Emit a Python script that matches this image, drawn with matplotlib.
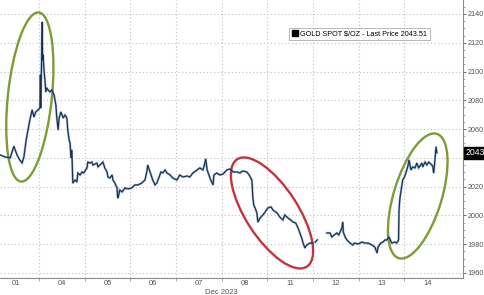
import numpy as np
import matplotlib
matplotlib.use("Agg")
import matplotlib.pyplot as plt
from matplotlib.patches import Ellipse
from matplotlib.transforms import ScaledTranslation
from matplotlib.lines import Line2D

# --- data: time in trading-day slots (0 = Dec 01, 1 = Dec 04, ...), gold spot price ---
t = [0.15, 0.26, 0.37, 0.45, 0.52, 0.58, 0.63, 0.67, 0.72, 0.76, 0.80, 0.85, 0.89, 0.93, 0.98,
     1.02, 1.03, 1.04, 1.07, 1.08, 1.09, 1.11, 1.13, 1.15, 1.17, 1.20, 1.24, 1.28, 1.33, 1.37,
     1.39, 1.42, 1.44, 1.48, 1.53, 1.57, 1.61, 1.63, 1.66, 1.68, 1.70, 1.72, 1.74, 1.79, 1.83,
     1.85, 1.90, 1.94, 1.98, 2.05, 2.07, 2.12, 2.16, 2.18, 2.27, 2.29, 2.33, 2.38, 2.40, 2.44,
     2.49, 2.51, 2.55, 2.60, 2.62, 2.66, 2.71, 2.72, 2.73, 2.77, 2.82, 2.88, 2.95, 3.03, 3.10,
     3.17, 3.25, 3.32, 3.36, 3.38, 3.43, 3.49, 3.54, 3.58, 3.63, 3.67, 3.71, 3.76, 3.80, 3.87,
     3.93, 4.02, 4.08, 4.15, 4.24, 4.30, 4.37, 4.46, 4.52, 4.59, 4.63, 4.65, 4.68, 4.72, 4.76,
     4.81, 4.83, 4.89, 4.96, 5.03, 5.11, 5.18, 5.25, 5.33, 5.40, 5.46, 5.55, 5.60, 5.66, 5.68,
     5.70, 5.73, 5.77, 5.79, 5.84, 5.90, 5.95, 6.01, 6.08, 6.12, 6.21, 6.27, 6.34, 6.38, 6.45,
     6.51, 6.56, 6.62, 6.67, 6.71, 6.75, 6.78, 6.82, 6.86, 6.93, 7.00, 7.02,
     7.05, 7.09, 7.11,
     7.30, 7.37, 7.41, 7.46, 7.52, 7.56, 7.63, 7.65, 7.66, 7.70, 7.74, 7.81, 7.87, 7.91, 7.98,
     8.07, 8.13, 8.20, 8.29, 8.35, 8.40, 8.42, 8.48, 8.53, 8.57, 8.61, 8.66, 8.72, 8.79, 8.83,
     8.87, 8.88, 8.90, 8.92, 8.96, 8.99, 9.03, 9.07, 9.10, 9.14, 9.18, 9.23, 9.27, 9.31, 9.38,
     9.40, 9.45, 9.49, 9.53, 9.60, 9.62, 9.64, 9.66, 9.69, 9.71]
price = [2042, 2040.6, 2040, 2048, 2042, 2038.5, 2036.4, 2040.6, 2052.4, 2059.4, 2066.3, 2073.3,
         2068.4, 2071.9, 2073.3, 2074.7, 2097.6, 2074.7, 2134.4, 2108, 2111.5, 2101, 2094, 2085.8,
         2088.6, 2087.2, 2085.8, 2087.2, 2083.7, 2076.8, 2067.7, 2059.4, 2067.7, 2071.9, 2067.7,
         2069.8, 2067.7, 2059.4, 2052.4, 2050.3, 2040, 2045.5, 2022.5, 2024.6, 2023.2, 2029.5,
         2028.1, 2030.2, 2029.5, 2033, 2037.1, 2036.4, 2037.1, 2035, 2036.4, 2033.7, 2035, 2036.4,
         2037.1, 2033, 2030.2, 2026.7, 2026, 2028.1, 2024.6, 2022.5, 2019.1, 2012.8, 2012.1,
         2017.7, 2016.3, 2019.1, 2018.4, 2019.1, 2021.2, 2021.2, 2022.5, 2024.6, 2030.2, 2035,
         2030.2, 2024.6, 2021.2, 2022.5, 2026.7, 2030.2, 2029.5, 2031.6, 2029.5, 2028.1, 2026,
         2024.6, 2028.1, 2026.7, 2027.4, 2026.7, 2029.5, 2031.6, 2033, 2031.6, 2036.4, 2039.2,
         2031.6, 2028.1, 2024.6, 2021.2, 2028.1, 2029.5, 2028.1, 2028.8, 2031.6, 2032.3, 2030.2,
         2030.2, 2029.5, 2030.9, 2030.2, 2028.1, 2024.6, 2012.8, 2007.3, 2005.2, 2001.7, 1995.4,
         1998.2, 2000.3, 2002.4, 2005.2, 2005.9, 2003.8, 2001.7, 1998.9, 1996.8, 2000.3, 1998.2,
         1996.8, 1995.4, 1994.7, 1991.3, 1987.8, 1984.3, 1980.8, 1977.4, 1979.4, 1980.8, 1980.8,
         np.nan,
         1981.5, 1983, np.nan,
         1987.8, 1987.8, 1985, 1986.4, 1987.8, 1986.4, 1991.3, 1995.4, 1988.5, 1985, 1982.9,
         1980.8, 1979.4, 1980.8, 1980.1, 1981.5, 1980.8, 1980.8, 1979.4, 1978, 1973.9, 1978,
         1980.8, 1981.5, 1982.9, 1982.9, 1985, 1980.8, 1981.5, 1980.8, 1982.9, 2004, 2012.1,
         2016.3, 2024.6, 2026, 2029.5, 2033.7, 2038.5, 2031.6, 2033.7, 2033, 2036.4, 2033, 2036.4,
         2033.7, 2037.1, 2035, 2037.1, 2035, 2033.7, 2029.5, 2036.4, 2047.6, 2043.51]

day_labels = ["01", "04", "05", "06", "07", "08", "11", "12", "13", "14"]
y_ticks = list(range(1960, 2141, 20))
last_price = 2043.51

# --- figure ---
plt.rcParams['font.family'] = ['Liberation Sans', 'DejaVu Sans']
fig = plt.figure(figsize=(4.85, 2.95), dpi=100)
ax = fig.add_axes([0.0, 0.0576, 0.9546, 0.9424])

ax.plot(t, price, color="#4a7fb5", lw=1.6, alpha=0.6, solid_joinstyle="miter")
ax.plot(t, price, color="#1a2c48", lw=0.8)

ax.set_xlim(0.147, 10.28)
ax.set_ylim(1956.5, 2149.7)

# grid
for y in y_ticks:
    ax.axhline(y, color="#c8c8c8", lw=0.8, ls=(0, (1.2, 2)), zorder=0)
for d in range(1, 10):
    ax.axvline(d, color="#c8c8c8", lw=0.8, ls=(0, (1.2, 2)), zorder=0)

# axes / ticks
for s in ["top", "left"]:
    ax.spines[s].set_visible(False)
for s in ["bottom", "right"]:
    ax.spines[s].set_color("#8a8a8a")
    ax.spines[s].set_linewidth(0.8)
ax.yaxis.tick_right()
ax.set_yticks(y_ticks)
ax.set_yticks(range(1960, 2150, 5), minor=True)
ax.tick_params(axis="y", which="major", labelsize=5.2, length=2.5, width=0.6,
               colors="#555555", pad=0.8)
ax.tick_params(axis="y", which="minor", length=1.5, width=0.5, colors="#888888")
ax.set_xticks([i + 0.5 for i in range(len(day_labels))])
ax.set_xticklabels(day_labels)
ax.set_xticks(range(1, 10), minor=True)
ax.tick_params(axis="x", which="major", labelsize=5.5, length=0, colors="#555555", pad=1.5)
ax.tick_params(axis="x", which="minor", length=2.5, width=0.5, colors="#888888")
ax.text(5, -0.052, "Dec 2023", transform=ax.get_xaxis_transform(), ha="center",
        va="center", fontsize=5.5, color="#555555")

# ellipses (size in inches, centred in data coordinates)
def ring(cx, cy, w, h, ang, col):
    tr = fig.dpi_scale_trans + ScaledTranslation(cx, cy, ax.transData)
    ax.add_patch(Ellipse((0, 0), w, h, angle=ang, transform=tr, fill=False,
                         edgecolor=col, lw=1.7, clip_on=False))

ring(0.80, 2082.3, 0.44, 1.70, -6, "#7f9b36")
ring(6.10, 2001.7, 1.28, 0.52, -57, "#c2343f")
ring(9.29, 2013.5, 1.30, 0.48, 73, "#7f9b36")

# legend
h = Line2D([], [], marker="s", color="black", ls="none", markersize=4)
leg = ax.legend([h], ["GOLD SPOT $/OZ - Last Price 2043.51"], loc="upper left",
                bbox_to_anchor=(0.616, 0.914), fontsize=5.2, frameon=True,
                handlelength=0.8, handletextpad=0.3, borderpad=0.4, fancybox=False)
leg.get_frame().set_edgecolor("#999999")
leg.get_frame().set_linewidth(0.6)

# last price tag
ax.annotate("2043.51", xy=(1, last_price), xycoords=("axes fraction", "data"),
            xytext=(2, 0), textcoords="offset points", va="center", ha="left",
            fontsize=6.3, color="white",
            bbox=dict(boxstyle="square,pad=0.2", fc="black", ec="black"),
            annotation_clip=False)

fig.savefig("out.png", dpi=100)
